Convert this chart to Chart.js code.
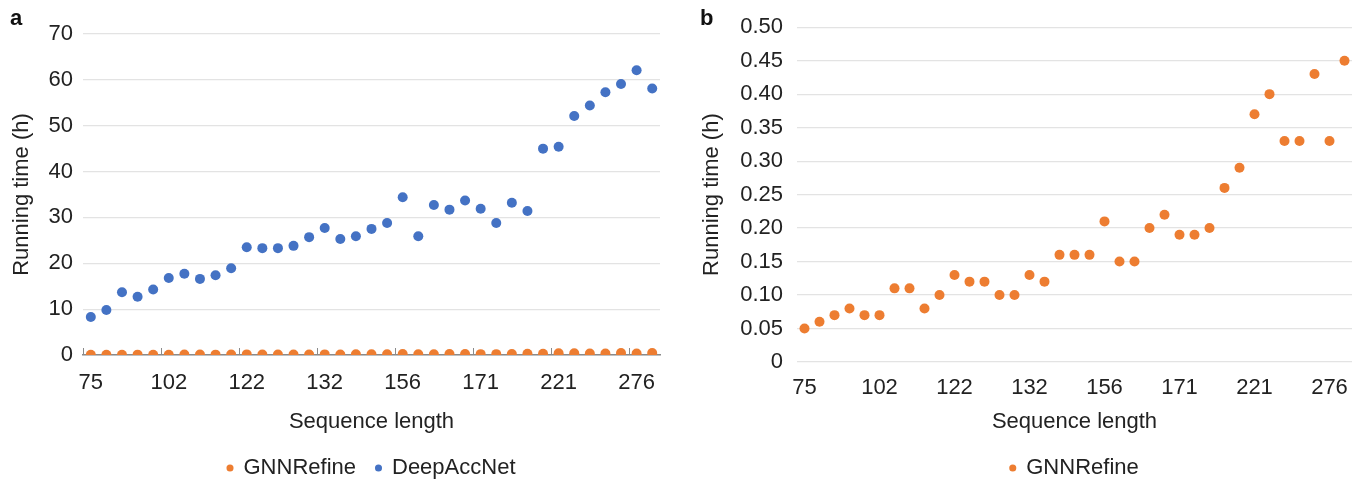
<!DOCTYPE html>
<html>
<head>
<meta charset="utf-8">
<script src="https://cdn.jsdelivr.net/npm/chart.js@4.4.0/dist/chart.umd.min.js"></script>
<style>
  body { margin: 0; background: #fff; font-family: "Liberation Sans", Arial, sans-serif; }
  #wrap { position: relative; width: 1363px; height: 489px; }
  canvas { position: absolute; top: 0; }
  .panel-tag { position: absolute; font-weight: bold; font-size: 22px; line-height: 1; color: #111; }
</style>
</head>
<body>
<div id="wrap">
  <canvas id="runtimeBoth" width="680" height="489" style="left:0"></canvas>
  <canvas id="runtimeGnn" width="683" height="489" style="left:680px"></canvas>
  <div class="panel-tag" style="left:10px; top:7px">a</div>
  <div class="panel-tag" style="left:700px; top:7px">b</div>
</div>
<script>
// running time (h) per target, sorted by sequence length
var tickLabels = ["75", "102", "122", "132", "156", "171", "221", "276"];
var gnnRefine = [0.05, 0.06, 0.07, 0.08, 0.07, 0.07, 0.11, 0.11, 0.08, 0.10,
                 0.13, 0.12, 0.12, 0.10, 0.10, 0.13, 0.12, 0.16, 0.16, 0.16,
                 0.21, 0.15, 0.15, 0.20, 0.22, 0.19, 0.19, 0.20, 0.26, 0.29,
                 0.37, 0.40, 0.33, 0.33, 0.43, 0.33, 0.45];
var deepAccNet = [8.3, 9.8, 13.7, 12.7, 14.3, 16.8, 17.7, 16.6, 17.4, 18.9,
                  23.5, 23.3, 23.3, 23.8, 25.7, 27.7, 25.3, 25.9, 27.5, 28.8,
                  34.4, 25.9, 32.7, 31.7, 33.7, 31.9, 28.8, 33.2, 31.4, 45.0,
                  45.4, 52.1, 54.4, 57.3, 59.1, 62.1, 58.1];

var orange = "#ED7D31";
var blue = "#4472C4";
var textColor = "#222";
var fontName = "'Liberation Sans', Arial, sans-serif";

// only every 5th target gets a label
var categories = gnnRefine.map(function(v, i) {
    return i % 5 === 0 ? tickLabels[i / 5] : "";
});

// little upward tick marks every 5 categories on the x axis of panel a
var groupTicks = {
    id: "groupTicks",
    beforeDatasetsDraw: function(chart) {
        var x = chart.scales.x, y = chart.scales.y;
        var half = (x.getPixelForValue(1) - x.getPixelForValue(0)) / 2;
        var base = y.getPixelForValue(0);
        var ctx = chart.ctx;
        ctx.save();
        ctx.strokeStyle = "#8a8a8a";
        ctx.lineWidth = 1;
        for (var i = 0; i < categories.length; i += 5) {
            var px = Math.round(x.getPixelForValue(i) - half) + 0.5;
            ctx.beginPath();
            ctx.moveTo(px, base);
            ctx.lineTo(px, base - 7);
            ctx.stroke();
        }
        ctx.restore();
    }
};

function makeOptions(cfg) {
    return {
        responsive: false,
        animation: false,
        layout: { padding: cfg.padding },
        plugins: {
            legend: {
                position: "bottom",
                fullSize: false,
                labels: {
                    usePointStyle: true,
                    boxWidth: 5,
                    boxHeight: 5,
                    padding: 20,
                    color: textColor,
                    font: { family: fontName, size: 22 }
                }
            },
            tooltip: { enabled: false }
        },
        scales: {
            x: {
                offset: true,
                grid: { display: false, drawTicks: false },
                border: cfg.xBorder,
                ticks: {
                    autoSkip: false,
                    maxRotation: 0,
                    padding: cfg.xTickPad,
                    color: textColor,
                    font: { family: fontName, size: 22 }
                },
                title: {
                    display: true,
                    text: "Sequence length",
                    color: textColor,
                    font: { family: fontName, size: 22 },
                    padding: { top: 4, bottom: 2 }
                },
                afterFit: function(s) { s.height = cfg.xHeight; }
            },
            y: {
                min: 0,
                max: cfg.yMax,
                grid: { color: "#e3e3e3", lineWidth: 1.2, drawTicks: false },
                border: { display: false },
                ticks: {
                    stepSize: cfg.yStep,
                    padding: cfg.yTickPad,
                    color: textColor,
                    font: { family: fontName, size: 22 },
                    callback: cfg.yFormat
                },
                title: {
                    display: true,
                    text: "Running time (h)",
                    color: textColor,
                    font: { family: fontName, size: 22 },
                    padding: { top: cfg.yTitlePad, bottom: 0 }
                },
                afterFit: function(s) { s.width = cfg.yWidth; }
            }
        }
    };
}

var ctxA = document.getElementById("runtimeBoth").getContext("2d");
new Chart(ctxA, {
    type: "line",
    data: {
        labels: categories,
        datasets: [
            {
                label: "GNNRefine",
                data: gnnRefine,
                showLine: false,
                pointRadius: 5,
                pointBackgroundColor: orange,
                pointBorderColor: orange,
                pointBorderWidth: 0,
                backgroundColor: orange,
                borderColor: orange
            },
            {
                label: "DeepAccNet",
                data: deepAccNet,
                showLine: false,
                pointRadius: 5,
                pointBackgroundColor: blue,
                pointBorderColor: blue,
                pointBorderWidth: 0,
                backgroundColor: blue,
                borderColor: blue
            }
        ]
    },
    options: makeOptions({
        padding: { left: 0, right: 20, top: 34, bottom: 0 },
        xBorder: { display: true, color: "#8a8a8a", width: 1.5 },
        xTickPad: 15,
        xHeight: 82,
        yMax: 70,
        yStep: 10,
        yTickPad: 10,
        yTitlePad: 9,
        yWidth: 83,
        yFormat: function(v) { return v; }
    }),
    plugins: [groupTicks]
});

var ctxB = document.getElementById("runtimeGnn").getContext("2d");
new Chart(ctxB, {
    type: "line",
    data: {
        labels: categories,
        datasets: [
            {
                label: "GNNRefine",
                data: gnnRefine,
                showLine: false,
                pointRadius: 5,
                pointBackgroundColor: orange,
                pointBorderColor: orange,
                pointBorderWidth: 0,
                backgroundColor: orange,
                borderColor: orange
            }
        ]
    },
    options: makeOptions({
        padding: { left: 0, right: 11, top: 27, bottom: 0 },
        xBorder: { display: false },
        xTickPad: 13,
        xHeight: 75,
        yMax: 0.5,
        yStep: 0.05,
        yTickPad: 14,
        yTitlePad: 19,
        yWidth: 117,
        yFormat: function(v) { return v === 0 ? "0" : v.toFixed(2); }
    })
});
</script>
</body>
</html>
